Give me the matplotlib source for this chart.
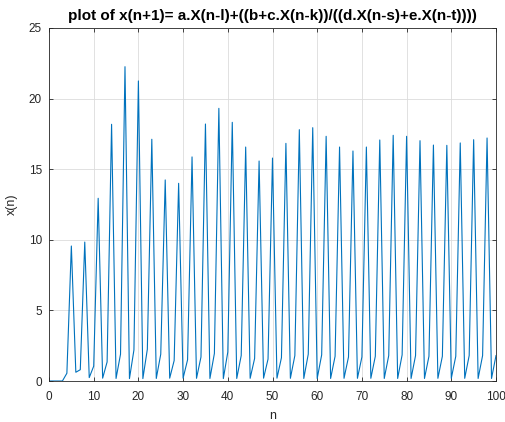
import numpy as np
import matplotlib
matplotlib.use("Agg")
import matplotlib.pyplot as plt

plt.rcParams['font.family'] = ['Liberation Sans', 'DejaVu Sans']

# sequence values x(n) for n = 0..100
n = np.arange(0, 101)
x = [0, 0, 0, 0, 0.55,
     9.56, 0.62, 0.80,
     9.84, 0.24, 1.05,
     12.94, 0.20, 1.35,
     18.18, 0.18, 1.90,
     22.26, 0.17, 2.20,
     21.25, 0.17, 2.25,
     17.12, 0.18, 1.90,
     14.24, 0.20, 1.45,
     14.00, 0.20, 1.50,
     15.87, 0.19, 1.70,
     18.20, 0.18, 1.95,
     19.31, 0.17, 2.05,
     18.32, 0.18, 1.80,
     16.57, 0.19, 1.60,
     15.58, 0.20, 1.55,
     15.79, 0.20, 1.65,
     16.83, 0.19, 1.80,
     17.80, 0.18, 1.90,
     17.94, 0.18, 1.85,
     17.33, 0.18, 1.75,
     16.57, 0.19, 1.70,
     16.29, 0.19, 1.70,
     16.57, 0.19, 1.75,
     17.07, 0.18, 1.80,
     17.40, 0.18, 1.85,
     17.33, 0.18, 1.80,
     17.02, 0.18, 1.75,
     16.71, 0.19, 1.75,
     16.69, 0.19, 1.75,
     16.86, 0.19, 1.80,
     17.09, 0.18, 1.80,
     17.21, 0.18, 1.80]

xticks = np.arange(0, 101, 10)
yticks = np.arange(0, 26, 5)

fig = plt.figure(figsize=(5.06, 4.22), dpi=100)
ax = fig.add_axes([49 / 506, 41 / 422, 447 / 506, 353 / 422])

ax.plot(n, x, color='#0072BD', linewidth=0.8)

ax.set_xlim(0, 100)
ax.set_ylim(0, 25)
ax.set_xticks(xticks)
ax.set_yticks(yticks)
ax.grid(True, color='#dcdcdc', linewidth=0.6)
ax.set_axisbelow(True)
ax.tick_params(direction='in', top=True, right=True, length=3, width=0.6,
               color='#262626', labelsize=8.5, labelcolor='#262626')
ax.tick_params(axis='x', pad=7)
ax.tick_params(axis='y', pad=5)
for s in ax.spines.values():
    s.set_color('#262626')
    s.set_linewidth(0.6)

ax.set_xlabel('n', fontsize=9, color='#262626', labelpad=5)
ax.set_ylabel('x(n)', fontsize=9, color='#262626', labelpad=8)
ax.set_title('plot of x(n+1)= a.X(n-l)+((b+c.X(n-k))/((d.X(n-s)+e.X(n-t))))',
             fontsize=11, fontweight='bold', color='black', pad=6)

fig.savefig('out.png', dpi=100)
